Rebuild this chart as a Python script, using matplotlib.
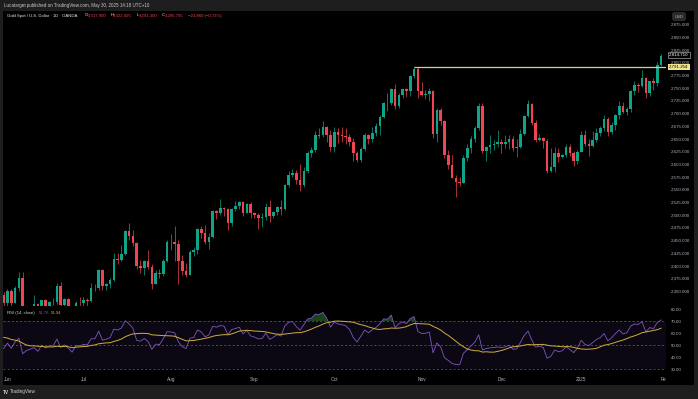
import numpy as np
import pandas as pd
import matplotlib
matplotlib.use("Agg")
import matplotlib.pyplot as plt
from matplotlib.transforms import blended_transform_factory

W, H = 698, 399
plt.rcParams["font.family"] = ["Liberation Sans", "DejaVu Sans"]

# ---------------- data: Gold Spot / USD, 1D, OANDA ----------------
dates = pd.bdate_range("2024-05-31", "2025-01-31")
dates = dates[~dates.strftime("%m-%d").isin(["12-25", "01-01"])]

opens = [
    2343, 2327, 2350, 2327, 2355, 2375, 2294, 2310, 2316, 2324, 2304, 2333, 2319, 2329, 2328, 2360, 2322, 2334, 2319, 2298, 2327,
    2326, 2332, 2330, 2356, 2356, 2392, 2359, 2364, 2371, 2414, 2411, 2422, 2469, 2459, 2445, 2400, 2396, 2409, 2397, 2364, 2386, 2384, 2410,
    2447, 2446, 2443, 2410, 2390, 2382, 2427, 2431, 2472, 2465, 2447, 2456, 2507, 2504, 2514, 2512, 2484, 2512, 2518, 2525, 2504, 2521,
    2503, 2499, 2493, 2495, 2516, 2497, 2506, 2516, 2512, 2558, 2578, 2582, 2569, 2559, 2587, 2622, 2628, 2657, 2657, 2672, 2658,
    2634, 2663, 2658, 2656, 2653, 2644, 2622, 2608, 2630, 2657, 2649, 2662, 2674, 2692, 2721, 2720, 2748, 2714, 2736, 2747, 2743, 2774, 2788,
    2743, 2736, 2737, 2743, 2659, 2706, 2685, 2618, 2598, 2573, 2565, 2563, 2612, 2631, 2650, 2670, 2715, 2625, 2634, 2638, 2640,
    2643, 2639, 2643, 2650, 2632, 2633, 2660, 2694, 2718, 2681, 2648, 2652, 2646, 2587, 2595, 2622, 2613, 2617, 2634, 2621, 2606,
    2624, 2658, 2640, 2636, 2648, 2662, 2670, 2689, 2663, 2677, 2697, 2715, 2702, 2708, 2743, 2755, 2754, 2770, 2740, 2763, 2760, 2794,
]
highs = [
    2349, 2354, 2353, 2359, 2388, 2387, 2313, 2318, 2342, 2326, 2333, 2334, 2331, 2336, 2365, 2368, 2337, 2336, 2321, 2331, 2339,
    2339, 2337, 2365, 2364, 2393, 2393, 2366, 2375, 2424, 2425, 2440, 2470, 2483, 2471, 2447, 2411, 2412, 2431, 2404, 2391, 2394, 2414, 2451,
    2462, 2477, 2450, 2420, 2405, 2431, 2437, 2475, 2478, 2479, 2464, 2509, 2510, 2531, 2515, 2513, 2513, 2527, 2528, 2527, 2524, 2526,
    2506, 2503, 2504, 2523, 2529, 2508, 2518, 2529, 2560, 2586, 2590, 2588, 2600, 2595, 2625, 2634, 2664, 2670, 2685, 2674, 2666,
    2673, 2670, 2672, 2671, 2660, 2652, 2625, 2633, 2662, 2660, 2673, 2680, 2696, 2722, 2740, 2749, 2758, 2739, 2748, 2750, 2775, 2790, 2790,
    2762, 2745, 2750, 2746, 2710, 2710, 2686, 2627, 2617, 2578, 2575, 2617, 2639, 2656, 2674, 2721, 2721, 2636, 2658, 2647, 2666,
    2650, 2657, 2658, 2656, 2649, 2668, 2697, 2726, 2721, 2687, 2659, 2654, 2650, 2632, 2633, 2631, 2620, 2639, 2640, 2625, 2627,
    2665, 2666, 2649, 2665, 2670, 2675, 2697, 2693, 2682, 2698, 2724, 2722, 2712, 2746, 2763, 2759, 2786, 2772, 2764, 2770, 2800, 2817,
]
lows = [
    2314, 2314, 2315, 2326, 2350, 2287, 2286, 2296, 2301, 2295, 2302, 2307, 2310, 2323, 2325, 2316, 2318, 2310, 2293, 2296, 2319,
    2319, 2318, 2328, 2351, 2352, 2352, 2352, 2356, 2370, 2404, 2410, 2421, 2451, 2439, 2393, 2385, 2382, 2393, 2353, 2364, 2376, 2379, 2407,
    2430, 2410, 2364, 2381, 2377, 2381, 2418, 2423, 2454, 2442, 2432, 2454, 2491, 2499, 2498, 2471, 2478, 2507, 2511, 2497, 2503, 2494,
    2493, 2472, 2476, 2489, 2485, 2494, 2499, 2500, 2510, 2555, 2575, 2561, 2546, 2555, 2583, 2614, 2623, 2652, 2654, 2643, 2625,
    2624, 2641, 2643, 2640, 2636, 2605, 2604, 2603, 2625, 2640, 2644, 2655, 2657, 2691, 2704, 2717, 2709, 2711, 2729, 2731, 2734, 2769, 2729,
    2733, 2727, 2725, 2652, 2644, 2677, 2611, 2590, 2572, 2536, 2557, 2563, 2605, 2622, 2643, 2667, 2622, 2605, 2622, 2628, 2633,
    2622, 2632, 2630, 2625, 2614, 2631, 2658, 2692, 2677, 2643, 2646, 2631, 2583, 2584, 2585, 2604, 2612, 2614, 2616, 2597, 2601,
    2623, 2636, 2615, 2634, 2643, 2656, 2665, 2656, 2660, 2667, 2689, 2700, 2696, 2702, 2736, 2742, 2752, 2730, 2734, 2746, 2754, 2792,
]
closes = [
    2327, 2350, 2327, 2355, 2375, 2294, 2310, 2316, 2324, 2304, 2333, 2319, 2329, 2328, 2360, 2322, 2334, 2319, 2298, 2327, 2326,
    2332, 2330, 2356, 2356, 2392, 2359, 2364, 2371, 2414, 2411, 2422, 2469, 2459, 2445, 2400, 2396, 2409, 2397, 2364, 2386, 2384, 2410, 2447,
    2446, 2443, 2410, 2390, 2382, 2427, 2431, 2472, 2465, 2447, 2456, 2507, 2504, 2514, 2512, 2484, 2512, 2518, 2525, 2504, 2521, 2503,
    2499, 2493, 2495, 2516, 2497, 2506, 2516, 2512, 2558, 2578, 2582, 2569, 2559, 2587, 2622, 2628, 2657, 2656, 2672, 2658, 2634,
    2663, 2658, 2656, 2653, 2644, 2622, 2608, 2630, 2657, 2649, 2662, 2674, 2692, 2721, 2720, 2748, 2714, 2736, 2747, 2743, 2774, 2788, 2743,
    2736, 2737, 2743, 2659, 2706, 2685, 2618, 2598, 2573, 2565, 2563, 2612, 2631, 2650, 2670, 2715, 2625, 2634, 2638, 2640, 2643,
    2639, 2643, 2650, 2632, 2633, 2660, 2694, 2718, 2681, 2648, 2652, 2646, 2587, 2595, 2622, 2613, 2617, 2634, 2621, 2606, 2624,
    2658, 2640, 2636, 2648, 2662, 2670, 2689, 2663, 2677, 2697, 2715, 2702, 2708, 2743, 2755, 2754, 2770, 2740, 2763, 2760, 2794, 2812,
]
# closes before the visible window (Apr-May 2024), only used to warm up the RSI
warmup_closes = [
    2251, 2280, 2300, 2290, 2329, 2339, 2353, 2333, 2372, 2344, 2383, 2383, 2361, 2379, 2392, 2327, 2322, 2316, 2332, 2337, 2335, 2286,
    2320, 2303, 2301, 2323, 2314, 2309, 2346, 2360, 2336, 2358, 2386, 2376, 2415, 2425, 2421, 2379, 2329, 2334, 2350, 2361, 2338, 2343,
]
assert len(dates) == len(opens) == len(highs) == len(lows) == len(closes)

price_ticks = list(range(2350, 2876, 25))
rsi_ticks = [30, 40, 50, 60, 70, 80]
ray_date = "2024-10-30"
ray_price = 2791.254
marker_price = 2814.710

header = "Lucatarget published on TradingView.com, May 30, 2025 14:18 UTC+10"
symbol = "Gold Spot / U.S. Dollar · 1D · OANDA"
ohlc_last = [("O", "3,317.900"), ("H", "3,322.925"), ("L", "3,291.300"), ("C", "3,295.755")]
change_last = "−23.860 (−0.72%)"
rsi_last = ("51.76", "51.94")

# ---------------- RSI(14) + SMA(14) ----------------
def rma(values, n):
    out = np.full(len(values), np.nan)
    out[n] = values[1:n + 1].mean()
    for i in range(n + 1, len(values)):
        out[i] = (out[i - 1] * (n - 1) + values[i]) / n
    return out

all_closes = np.array(warmup_closes + closes, dtype=float)
chg = np.diff(all_closes, prepend=all_closes[0])
up = rma(np.clip(chg, 0, None), 14)
dn = rma(np.clip(-chg, 0, None), 14)
rsi_full = 100 - 100 / (1 + up / dn)
rsi_ma_full = pd.Series(rsi_full).rolling(14).mean().values
rsi = rsi_full[len(warmup_closes):]
rsi_ma = rsi_ma_full[len(warmup_closes):]

# ---------------- style ----------------
BG = "#000000"
FRAME = "#1e1e1e"
UP = "#0fa387"
DOWN = "#ef4452"
TXT = "#b2b5be"
FS = 3.2

fig = plt.figure(figsize=(W / 100, H / 100), dpi=100, facecolor=FRAME)


def add_box(x0, y0, x1, y1):
    a = fig.add_axes([x0 / W, 1 - y1 / H, (x1 - x0) / W, (y1 - y0) / H])
    a.set_facecolor(BG)
    for s in a.spines.values():
        s.set_visible(False)
    a.set_xticks([])
    a.set_yticks([])
    return a


def ftxt(x, y, s, **kw):
    fig.text(x / W, 1 - y / H, s, va="center", **kw)


add_box(3, 11, 694, 385)
ax = add_box(3, 11, 666, 306)
rax = add_box(3, 306, 666, 373)
tax = add_box(3, 373, 666, 385)

XL = (-0.18, 174.3)
x = np.arange(len(closes))

# ---------------- candles ----------------
o, h, l, c = (np.array(v, dtype=float) for v in (opens, highs, lows, closes))
col = np.where(c >= o, UP, DOWN)
ax.vlines(x, l, h, colors=col, lw=0.5)
ax.bar(x, np.maximum(np.abs(c - o), 0.9), bottom=np.minimum(o, c), width=0.66, color=col, lw=0)

ray_i = dates.get_loc(pd.Timestamp(ray_date))
ax.hlines(ray_price, ray_i, XL[1], color="#d8d08a", lw=0.9)

ax.set_xlim(*XL)
ax.set_ylim(2320.5, 2901.2)
ax.yaxis.tick_right()
ax.set_yticks(price_ticks)
ax.set_yticklabels([f"{v:,.3f}" for v in price_ticks])
ax.tick_params(axis="y", length=0, pad=3.2, labelsize=FS, labelcolor=TXT)

trans = blended_transform_factory(ax.transAxes, ax.transData)
ax.text(1.0045, marker_price, f"{marker_price:,.3f}", transform=trans, ha="left", va="center",
        fontsize=FS, color="white", clip_on=False, zorder=5,
        bbox=dict(boxstyle="square,pad=0.3", fc="black", ec="#c8c8c8", lw=0.4))
ax.text(1.0045, ray_price, f"{ray_price:,.3f}", transform=trans, ha="left", va="center",
        fontsize=FS, color="black", clip_on=False, zorder=5,
        bbox=dict(boxstyle="square,pad=0.3", fc="#efe58f", ec="none"))

# ---------------- RSI pane ----------------
rax.axhspan(30, 70, color="#7e57c2", alpha=0.1, lw=0)
for lvl in (70, 50, 30):
    rax.axhline(lvl, color="#787b86", lw=0.5, ls=(0, (3, 3)), alpha=0.8)
rax.fill_between(x, 70, rsi, where=rsi > 70, interpolate=True, color="#2e7d32", alpha=0.55, lw=0)
rax.plot(x, rsi, color="#7e57c2", lw=0.6)
rax.plot(x, rsi_ma, color="#cfae3c", lw=0.7)
rax.set_xlim(*XL)
rax.set_ylim(26.7, 82.5)
rax.yaxis.tick_right()
rax.set_yticks(rsi_ticks)
rax.set_yticklabels([f"{v:.2f}" for v in rsi_ticks])
rax.tick_params(axis="y", length=0, pad=3.2, labelsize=FS, labelcolor=TXT)

# ---------------- time axis ----------------
tax.set_xlim(*XL)
tax.set_ylim(0, 1)
month_pos = [0] + [i for i in range(1, len(dates)) if dates[i].month != dates[i - 1].month] + [len(dates)]
month_lbl = [d.strftime("%b") if d.month != 1 else str(d.year)
             for d in list(dates[month_pos[:-1]]) + [dates[-1] + pd.offsets.BDay(1)]]
for p, s in zip(month_pos[1:], month_lbl[1:]):
    tax.text(p, 0.45, s, ha="center", va="center", fontsize=3.4, color=TXT, clip_on=True)

# ---------------- texts ----------------
ftxt(4, 5.5, header, fontsize=3.25, color="#c9c9c9")
ftxt(7, 15.5, symbol, fontsize=3.1, color="#e8e8e8")
for (k, v), xk in zip(ohlc_last, (85, 110.5, 136.5, 162)):
    ftxt(xk, 15.5, k, fontsize=3.1, color="#e8e8e8")
    ftxt(xk + 2.8, 15.5, v, fontsize=3.1, color=DOWN)
ftxt(188.5, 15.5, change_last, fontsize=3.1, color=DOWN)

ftxt(7, 313, "RSI (14, close)", fontsize=3.1, color="#d1d4dc")
ftxt(39, 313, rsi_last[0], fontsize=3.1, color="#7e57c2")
ftxt(51, 313, rsi_last[1], fontsize=3.1, color="#cfae3c")

fig.text(679 / W, 1 - 16.5 / H, "USD", ha="center", va="center", fontsize=3.0, color=TXT,
         bbox=dict(boxstyle="round,pad=0.6", fc="#2a2a2a", ec="none"))

ftxt(3.2, 392, "TV", fontsize=3.4, color="#d1d4dc", fontweight="bold")
ftxt(10, 392, "TradingView", fontsize=3.3, color="#d1d4dc")

fig.savefig("out.png", dpi=100, facecolor=FRAME)
